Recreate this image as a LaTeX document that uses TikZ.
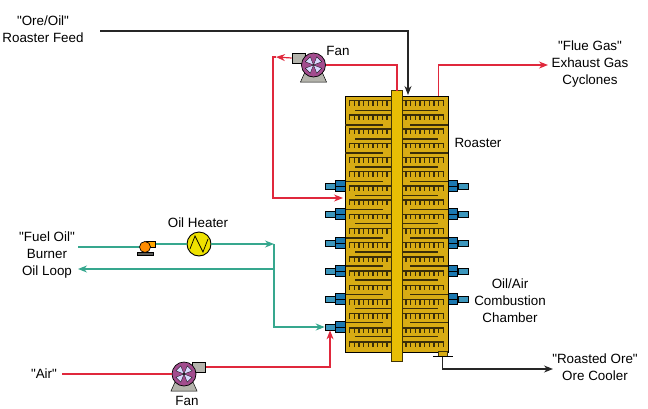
\documentclass[tikz,border=0pt]{standalone}
\usepackage{fontspec}
\setmainfont[Ligatures=TeXOff]{Liberation Sans}
\usetikzlibrary{arrows.meta,positioning,calc}
\definecolor{trayyellow}{HTML}{D8AC14}
\definecolor{shaftgold}{HTML}{E8BE05}
\definecolor{traydark}{HTML}{3A2E08}
\definecolor{burnerblue}{HTML}{1B78B0}
\definecolor{burnerlight}{HTML}{3C96BC}
\definecolor{linered}{HTML}{E0283C}
\definecolor{linegreen}{HTML}{36A78E}
\definecolor{fanpurple}{HTML}{A24C8E}
\definecolor{fangrey}{HTML}{B4B4AC}
\tikzset{
  lbl/.style={align=center,font=\fontsize{13.4}{17}\selectfont,inner sep=0pt},
  redline/.style={linered,line width=1.2pt},
  greenline/.style={linegreen,line width=1.2pt},
  blackline/.style={black!85,line width=1.1pt},
  tip/.style={-{Stealth[length=9pt,width=7pt]}},
  burnerbig/.style={draw=black,fill=burnerblue,line width=0.7pt,minimum width=9.5pt,minimum height=10.5pt,inner sep=0pt},
  burnersmall/.style={draw=black,fill=burnerlight,line width=0.7pt,minimum width=10pt,minimum height=6pt,inner sep=0pt},
  fan/.pic={
    \fill[fangrey,draw=black,line width=0.5pt] (-9,8) -- (9,8) -- (13,17) -- (-13,17) -- cycle;
    \node[draw=black,fill=fangrey,line width=0.6pt,minimum width=13pt,minimum height=10pt,inner sep=0pt] (-out) at (15,-7) {};
    \node[circle,draw=black,fill=fanpurple,line width=0.7pt,minimum size=24pt,inner sep=0pt] (-body) at (0,0) {};
    \foreach \ang in {45,135,225,315}
      \fill[rotate=\ang,fill=blue!15!white,draw=black,line width=0.3pt] (0,0) -- (8,-3.5) -- (8,3.5) -- cycle;
  },
}
\begin{document}
\begin{tikzpicture}[x=1pt,y=-1pt]
  \useasboundingbox (0,0) rectangle (648,408);
  % roaster body
  \node[draw=black,fill=trayyellow,line width=0.8pt,minimum width=103pt,minimum height=256pt,inner sep=0pt] (roaster) at (396.5,224) {};
  % combs and trays
  \foreach \row in {0,...,17} {
    \draw[traydark,line width=1.4pt] (349,100.7+14.2*\row) -- (391,100.7+14.2*\row);
    \draw[traydark,line width=1.4pt] (402,100.7+14.2*\row) -- (444,100.7+14.2*\row);
    \foreach \tooth in {0,...,8} {
      \draw[traydark,line width=1.3pt] (349.5+4.7*\tooth,100.7+14.2*\row) -- ++(0,5);
      \draw[traydark,line width=1.3pt] (443.5-4.7*\tooth,100.7+14.2*\row) -- ++(0,5);
    }
  }
  \foreach \row in {0,2,...,16} {
    \draw[traydark,line width=1.5pt] (355,110.7+14.125*\row) -- (391,110.7+14.125*\row);
    \draw[traydark,line width=1.5pt] (402,110.7+14.125*\row) -- (438,110.7+14.125*\row);
  }
  \foreach \row in {1,3,...,15} {
    \draw[traydark,line width=1.5pt] (345,110.7+14.125*\row) -- (383,110.7+14.125*\row);
    \draw[traydark,line width=1.5pt] (410,110.7+14.125*\row) -- (448,110.7+14.125*\row);
  }
  \node[draw=black!70!trayyellow,fill=shaftgold,line width=0.7pt,minimum width=11pt,minimum height=271pt,inner sep=0pt] (shaft) at (396.5,226) {};
  % burners
  \foreach \name/\ypos in {1/186,2/214,3/243,4/271,5/299,6/327} {
    \node[burnerbig] (lbig\name) at (340.5,\ypos) {};
    \node[burnersmall,left=0pt of lbig\name] (lsmall\name) {};
    \draw[black,line width=0.4pt] (lbig\name.west) -- (lbig\name.east);
  }
  \foreach \name/\ypos in {1/186,2/214,3/243,4/271,5/299} {
    \node[burnerbig] (rbig\name) at (453,\ypos) {};
    \node[burnersmall,right=0pt of rbig\name] (rsmall\name) {};
    \draw[black,line width=0.4pt] (rbig\name.west) -- (rbig\name.east);
  }
  % discharge
  \node[draw=black!70!trayyellow,fill=trayyellow,minimum width=9pt,minimum height=5pt,inner sep=0pt] (discharge) at (442.5,354) {};
  \draw[black,line width=1pt] (433,356.7) -- (453,356.7);
  % equipment
  \pic[xscale=-1] (fantop) at (313.5,65) {fan};
  \pic (fanair) at (184,374) {fan};
  \fill[fangrey!50!black,draw=black,line width=0.5pt] (137,252) rectangle (153,255.5);
  \node[draw=black,fill=orange!70!yellow,line width=0.6pt,minimum width=9pt,minimum height=6pt,inner sep=0pt] (pumpout) at (151,244) {};
  \node[circle,draw=black,fill=orange!90!yellow,line width=0.7pt,minimum size=11pt,inner sep=0pt] (pump) at (145,247) {};
  \node[circle,draw=black,fill=yellow!85!olive,line width=0.9pt,minimum size=24pt,inner sep=0pt] (heater) at (199,244) {};
  \draw[black,line width=0.7pt] (190,249) -- (195,236) -- (203,252) -- (208,239);
  % labels
  \node[lbl] (feedlbl) at (43,29.5) {"Ore/Oil"\\Roaster Feed};
  \node[lbl] (fluelbl) at (590,64.5) {"Flue Gas"\\Exhaust Gas\\Cyclones};
  \node[lbl] (fantoplbl) at (338,51) {Fan};
  \node[lbl] (roasterlbl) at (478,143) {Roaster};
  \node[lbl] (heaterlbl) at (198,223) {Oil Heater};
  \node[lbl] (fuellbl) at (47,255) {"Fuel Oil"\\Burner\\Oil Loop};
  \node[lbl] (chamberlbl) at (510,301) {Oil/Air\\Combustion\\Chamber};
  \node[lbl] (airlbl) at (44,374) {"Air"};
  \node[lbl] (fanairlbl) at (187,400.5) {Fan};
  \node[lbl] (orelbl) at (595,367.5) {"Roasted Ore"\\Ore Cooler};
  % connector ends
  \coordinate (feedin) at (100,31);
  \coordinate (feedtip) at (408,95);
  \coordinate (fluein) at (438.2,96);
  \coordinate (fluetip) at (548,65);
  \coordinate (recyin) at (397,91);
  \coordinate (recymid) at (276,57);
  \coordinate (recytip) at (343,198);
  \coordinate (oilin) at (78,247);
  \coordinate (oilout) at (78,269);
  \coordinate (oilbranch) at (274,244);
  \coordinate (oilret) at (274,269);
  \coordinate (airin) at (62,374);
  \coordinate (oretip) at (553,369);
  % streams
  \draw[blackline,tip] (feedin) -| (feedtip);
  \draw[redline,tip] (fluein) |- (fluetip);
  \draw[redline] (fantop-body.east) -| (recyin);
  \draw[redline,tip] (fantop-out.west) -- (recymid);
  \draw[redline,tip] (recymid) -- (273,57) |- (recytip);
  \draw[greenline] (oilin) -- (pump.west);
  \draw[greenline] (pumpout.east) -- (heater.west);
  \draw[greenline,tip] (heater.east) -- (oilbranch);
  \draw[greenline,tip] (oilbranch) |- (lsmall6.west);
  \draw[greenline,tip] (oilret) -- (oilout);
  \draw[redline] (airin) -- (fanair-body.west);
  \draw[redline,tip] (fanair-out.east) -| (lsmall6.south);
  \draw[blackline,tip] (discharge.south) |- (oretip);
\end{tikzpicture}
\end{document}
